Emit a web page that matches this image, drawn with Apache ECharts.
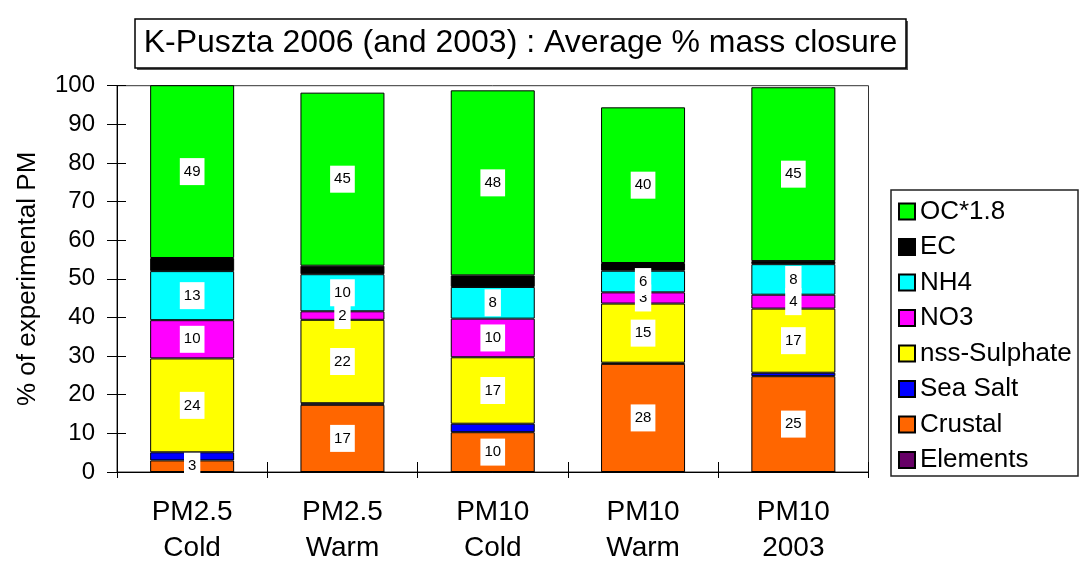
<!DOCTYPE html>
<html>
<head>
<meta charset="utf-8">
<script src="https://cdn.jsdelivr.net/npm/echarts@6/dist/echarts.min.js"></script>
<style>html,body{margin:0;padding:0;background:#fff}#c{width:1080px;height:566px}</style>
</head>
<body>
<div id="c"></div>
<script>
var categories = ['PM2.5\nCold', 'PM2.5\nWarm', 'PM10\nCold', 'PM10\nWarm', 'PM10\n2003'];
var elements = [0, 0, 0, 0, 0];
var crustal = [3, 17.4, 10.3, 28, 24.8];
var seaSalt = [2.1, 0.4, 2.2, 0.3, 0.9];
var sulphate = [24.3, 21.6, 17.2, 15.3, 16.6];
var no3 = [9.9, 2.2, 10, 2.9, 3.6];
var nh4 = [12.7, 9.6, 8.2, 5.6, 7.9];
var ec = [3.4, 2.2, 3.0, 2.0, 0.8];
var oc = [49, 44.8, 47.9, 40.3, 45];
var yMin = 0, yMax = 100, yStep = 10;
var titleText = 'K-Puszta 2006 (and 2003) : Average % mass closure';
var yName = '% of experimental PM';

var FONT = "'Liberation Sans', Arial, sans-serif";
var chart = echarts.init(document.getElementById('c'), null, {renderer: 'canvas'});

var labelOn = {
  show: true, position: 'inside', color: '#000', fontSize: 15, fontFamily: FONT,
  backgroundColor: '#fff', padding: [6, 4],
  formatter: function (p) { return Math.round(p.value); }
};
function mk(name, data, color, withLabel) {
  return {
    name: name, type: 'bar', stack: 'all', data: data, barWidth: 84,
    itemStyle: {color: color, borderColor: '#000', borderWidth: 1},
    label: withLabel ? labelOn : {show: false},
    emphasis: {disabled: true}
  };
}

var series = [
  mk('Elements', elements, '#660066', false),
  mk('Crustal', crustal, '#FF6600', true),
  mk('Sea Salt', seaSalt, '#0000FF', false),
  mk('nss-Sulphate', sulphate, '#FFFF00', true),
  mk('NO3', no3, '#FF00FF', true),
  mk('NH4', nh4, '#00FFFF', true),
  mk('EC', ec, '#000000', false),
  mk('OC*1.8', oc, '#00FF00', true)
];

chart.setOption({
  animation: false,
  textStyle: {fontFamily: FONT},
  grid: {left: 117, right: 211.5, top: 85.7, bottom: 89.3, show: true, borderColor: '#333', borderWidth: 1, backgroundColor: 'transparent'},
  legend: {
    data: ['OC*1.8', 'EC', 'NH4', 'NO3', 'nss-Sulphate', 'Sea Salt', 'Crustal', 'Elements'],
    orient: 'vertical', left: 898, top: 198.5, itemWidth: 16, itemHeight: 16, itemGap: 9.5,
    icon: 'rect', padding: 0,
    textStyle: {fontSize: 26, color: '#000', fontFamily: FONT}
  },
  xAxis: [{
    type: 'category', data: categories, boundaryGap: true,
    axisLine: {show: true, lineStyle: {color: '#000', width: 1}},
    axisTick: {show: true, length: 6, lineStyle: {color: '#000'}},
    axisLabel: {fontSize: 28, color: '#000', lineHeight: 36, margin: 22, fontFamily: FONT, interval: 0}
  }, {
    type: 'category', data: categories, position: 'bottom', boundaryGap: true,
    axisLine: {show: false}, axisLabel: {show: false},
    axisTick: {show: true, inside: true, length: 10, lineStyle: {color: '#000'}}
  }],
  yAxis: [{
    type: 'value', min: yMin, max: yMax, interval: yStep,
    name: yName, nameLocation: 'middle', nameGap: 76, nameRotate: 90,
    nameTextStyle: {fontSize: 26, color: '#000', fontFamily: FONT},
    axisLine: {show: true, lineStyle: {color: '#000', width: 1}},
    axisTick: {show: true, length: 10, lineStyle: {color: '#000'}},
    axisLabel: {fontSize: 24, color: '#000', margin: 22, fontFamily: FONT},
    splitLine: {show: false}
  }, {
    type: 'value', min: yMin, max: yMax, interval: yStep, position: 'left',
    axisLine: {show: false}, axisLabel: {show: false}, splitLine: {show: false},
    axisTick: {show: true, inside: true, length: 9, lineStyle: {color: '#000'}}
  }],
  graphic: [
    {type: 'rect', shape: {x: 137, y: 21, width: 771, height: 49}, style: {fill: '#555'}, z: 10},
    {type: 'rect', shape: {x: 135, y: 19, width: 771, height: 49}, style: {fill: '#fff', stroke: '#000', lineWidth: 1.5}, z: 11},
    {type: 'text', x: 520.5, y: 43.5, z: 12, style: {text: titleText, font: "32px 'Liberation Sans', Arial, sans-serif", fill: '#000', textAlign: 'center', textVerticalAlign: 'middle'}},
    {type: 'rect', shape: {x: 891, y: 190, width: 187, height: 286}, style: {fill: '#fff', stroke: '#222', lineWidth: 1.5}, z: -1}
  ],
  series: series
});
</script>
</body>
</html>
